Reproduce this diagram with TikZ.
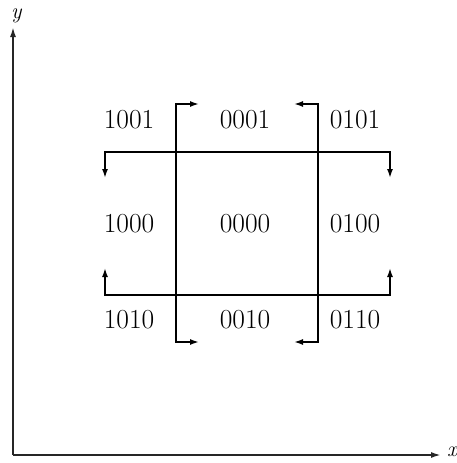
\documentclass[tikz,border=0pt]{standalone}
\usetikzlibrary{arrows.meta}
\begin{document}
\begin{tikzpicture}[x=1pt,y=-1pt,
  region/.style={font=\fontsize{27.5}{32}\selectfont, inner sep=0pt},
  boundary/.style={line width=1.6pt, {Latex[length=9pt,width=6pt]}-{Latex[length=9pt,width=6pt]}},
  axis/.style={line width=1.8pt, black!85, -{Latex[length=10pt,width=6pt]}},
  axlabel/.style={font=\fontsize{22}{26}\selectfont\itshape, inner sep=0pt}]
\useasboundingbox (0,0) rectangle (456,463);
% axes
\coordinate (o) at (13,455);
\coordinate (ytop) at (13,27);
\coordinate (xend) at (441,455);
\draw[axis] (o) -- (ytop);
\draw[axis] (o) -- (xend);
\node[axlabel, anchor=south west] (ylab) at (11,23) {y};
\node[axlabel, anchor=west] (xlab) at (447,452) {x};
% boundary lines
\coordinate (t1) at (105,178); \coordinate (t2) at (105,152);
\coordinate (t3) at (390,152); \coordinate (t4) at (390,178);
\coordinate (b1) at (105,268); \coordinate (b2) at (105,295);
\coordinate (b3) at (390,295); \coordinate (b4) at (390,268);
\coordinate (l1) at (199,104); \coordinate (l2) at (176,104);
\coordinate (l3) at (176,342); \coordinate (l4) at (199,342);
\coordinate (r1) at (294,104); \coordinate (r2) at (318,104);
\coordinate (r3) at (318,342); \coordinate (r4) at (294,342);
\draw[boundary] (t1) -- (t2) -- (t3) -- (t4);
\draw[boundary] (b1) -- (b2) -- (b3) -- (b4);
\draw[boundary] (l1) -- (l2) -- (l3) -- (l4);
\draw[boundary] (r1) -- (r2) -- (r3) -- (r4);
% region codes
\node[region] (c1001) at (129,120) {1001};
\node[region] (c0001) at (245,120) {0001};
\node[region] (c0101) at (355,120) {0101};
\node[region] (c1000) at (129,224) {1000};
\node[region] (c0000) at (245,224) {0000};
\node[region] (c0100) at (355,224) {0100};
\node[region] (c1010) at (129,320) {1010};
\node[region] (c0010) at (245,320) {0010};
\node[region] (c0110) at (355,320) {0110};
\end{tikzpicture}
\end{document}
